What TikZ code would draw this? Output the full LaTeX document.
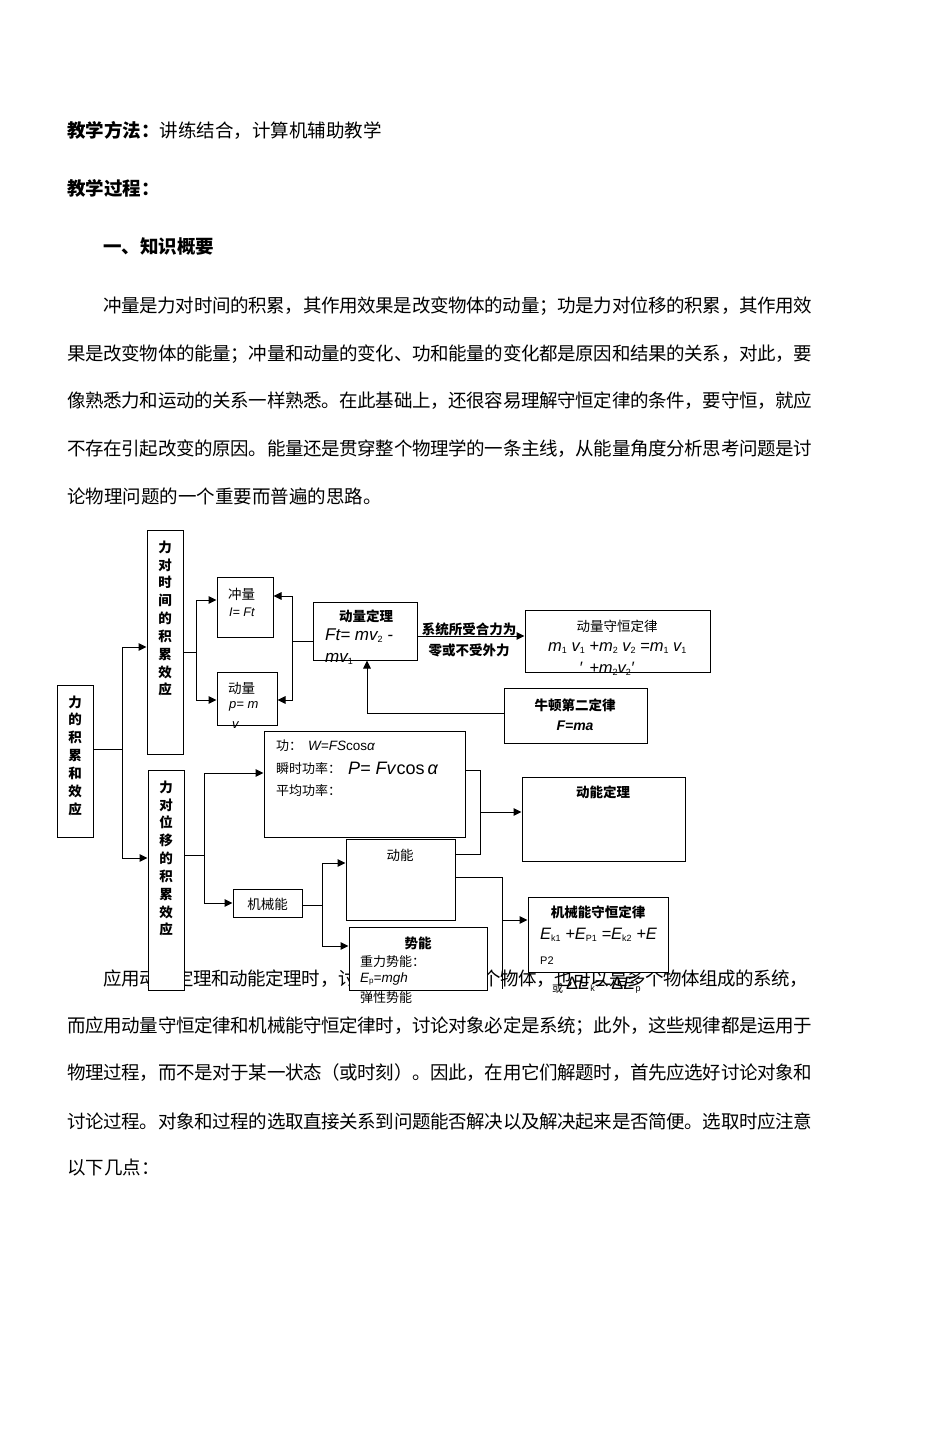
\documentclass[tikz,border=0pt]{standalone}
\usepackage{fontspec}
\setmainfont{Noto Sans CJK SC}
\newfontfamily\lat{Liberation Sans}
\usetikzlibrary{arrows.meta}
\newcount\cc
\cc="3000 \loop \XeTeXcharclass\cc=7 \advance\cc by 1 \ifnum\cc<"A000 \repeat
\cc="FF00 \loop \XeTeXcharclass\cc=7 \advance\cc by 1 \ifnum\cc<"FFF0 \repeat
\XeTeXinterchartoks 7 7 = {\hskip 0pt plus 1fil minus 1fil}
\newcommand\jl[2]{\hbox to #1pt{\XeTeXinterchartokenstate=1 #2}}
\newcommand\fs[1]{\fontsize{#1}{#1}\selectfont}
\newcommand\ls[1]{\raisebox{-2pt}{\fs{9}\upshape #1}}
\begin{document}
\begin{tikzpicture}[x=1pt,y=-1pt,
  box/.style={draw, fill=white, line width=1pt, inner sep=0pt},
  ln/.style={line width=1pt},
  arr/.style={line width=1pt, -{Triangle[length=8pt,width=7.5pt]}},
  txt/.style={inner sep=0pt, anchor=west},
  body/.style={txt, font=\fs{18.5}},
  lab/.style={inner sep=0pt, font=\fs{13.5}},
  blab/.style={inner sep=0pt, font=\fs{13.5}\bfseries},
  vlab/.style={inner sep=0pt, align=center, font=\fontsize{13.5}{17.85}\selectfont\bfseries},
  frm/.style={txt, font=\lat\itshape\fs{16.5}}]
\useasboundingbox[fill=white] (0,0) rectangle (950,1433);

% ---------- body text ----------
\node[body] (b1) at (67,130) {\textbf{教学方法：}讲练结合，计算机辅助教学};
\node[body] (b2) at (67,188) {\textbf{教学过程：}};
\node[body] (b3) at (103,247) {\textbf{一、知识概要}};
\node[body] (p1) at (103,306) {\jl{709}{冲量是力对时间的积累，其作用效果是改变物体的动量；功是力对位移的积累，其作用效}};
\node[body] (p2) at (67,354) {\jl{745}{果是改变物体的能量；冲量和动量的变化、功和能量的变化都是原因和结果的关系，对此，要}};
\node[body] (p3) at (67,401) {\jl{745}{像熟悉力和运动的关系一样熟悉。在此基础上，还很容易理解守恒定律的条件，要守恒，就应}};
\node[body] (p4) at (67,449) {\jl{745}{不存在引起改变的原因。能量还是贯穿整个物理学的一条主线，从能量角度分析思考问题是讨}};
\node[body] (p5) at (67,496) {论物理问题的一个重要而普遍的思路。};
\node[body] (q1) at (103,979) {\jl{705}{应用动量定理和动能定理时，讨论对象可以是一个物体，也可以是多个物体组成的系统，}};
\node[body] (q2) at (67,1026) {\jl{745}{而应用动量守恒定律和机械能守恒定律时，讨论对象必定是系统；此外，这些规律都是运用于}};
\node[body] (q3) at (67,1073) {\jl{745}{物理过程，而不是对于某一状态（或时刻）。因此，在用它们解题时，首先应选好讨论对象和}};
\node[body] (q4) at (67,1121) {\jl{745}{讨论过程。对象和过程的选取直接关系到问题能否解决以及解决起来是否简便。选取时应注意}};
\node[body] (q5) at (67,1168) {以下几点：};

% ---------- boxes ----------
\node[box, minimum width=36, minimum height=152] (F) at (75,761) {};
\node[box, minimum width=36, minimum height=224] (T) at (165,642) {};
\node[box, minimum width=36, minimum height=220] (D) at (166,880) {};
\node[box, minimum width=56, minimum height=60] (I) at (245,607) {};
\node[box, minimum width=60, minimum height=53] (P) at (247,698.5) {};
\node[box, minimum width=104, minimum height=58] (MT) at (365,631) {};
\node[box, minimum width=185, minimum height=62] (MC) at (617.5,641) {};
\node[box, minimum width=143, minimum height=55] (N) at (575.5,715.5) {};
\node[box, minimum width=201, minimum height=106] (W) at (364.5,784) {};
\node[box, minimum width=163, minimum height=84] (KT) at (603.5,819) {};
\node[box, minimum width=69, minimum height=28] (ME) at (267.5,903) {};
\node[box, minimum width=109, minimum height=81] (K) at (400.5,879.5) {};
\node[box, minimum width=138, minimum height=63] (PE) at (418,958.5) {};
\node[box, minimum width=140, minimum height=75] (EC) at (598,934.5) {};

% ---------- connectors ----------
\coordinate (j1) at (122,749);
\draw[ln] (F.east |- j1) -- (j1);
\draw[arr] (j1) |- (T.west |- 0,647);
\draw[arr] (j1) |- (D.west |- 0,858);

\coordinate (j2) at (196,652);
\draw[ln] (T.east |- j2) -- (j2);
\draw[arr] (j2) |- (I.west |- 0,600);
\draw[arr] (j2) |- (P.west |- 0,700);

\coordinate (j3) at (292,641);
\draw[ln] (MT.west |- j3) -- (j3);
\draw[arr] (j3) |- (I.east |- 0,596);
\draw[arr] (j3) |- (P.east |- 0,700);

\draw[arr] (MT.east |- 0,636) -- (MC.west |- 0,636);
\draw[arr] (N.west |- 0,713) -| (MT.south -| 367,0);

\coordinate (j4) at (204,855);
\draw[ln] (D.east |- j4) -- (j4);
\draw[arr] (j4) |- (W.west |- 0,773);
\draw[arr] (j4) |- (ME.west |- 0,903);

\coordinate (j5) at (322,905);
\draw[ln] (ME.east |- j5) -- (j5);
\draw[arr] (j5) |- (K.west |- 0,863);
\draw[arr] (j5) |- (PE.west |- 0,946);

\coordinate (j6) at (480,812);
\draw[ln] (W.east |- 0,770) -| (j6);
\draw[ln] (K.east |- 0,854) -| (j6);
\draw[arr] (j6) -- (KT.west |- j6);

\coordinate (j7) at (502,920);
\draw[ln] (K.east |- 0,877) -| (502,989);
\draw[arr] (j7) -- (EC.west |- j7);

% ---------- labels ----------
\node[vlab] (Ft) at (75,755.5) {力\\的\\积\\累\\和\\效\\应};
\node[vlab] (Tt) at (165,618.5) {力\\对\\时\\间\\的\\积\\累\\效\\应};
\node[vlab] (Dt) at (166,858.5) {力\\对\\位\\移\\的\\积\\累\\效\\应};

\node[txt, font=\fs{13.5}] (It) at (228,594) {冲量};
\node[txt, font=\lat\itshape\fs{12.5}] (If) at (229,612) {I= Ft};
\node[txt, font=\fs{13.5}] (Pt) at (228,688) {动量};
\node[txt, font=\lat\itshape\fs{13}] (Pf) at (229,706) {p= m};
\node[txt, font=\lat\itshape\fs{13}] (Pf2) at (232,725) {v};

\node[blab] (MTt) at (366,616) {动量定理};
\node[frm, font=\lat\itshape\fs{17}] (MTf) at (325,636) {Ft= mv\ls{2} -};
\node[frm, font=\lat\itshape\fs{17}] (MTf2) at (325,659) {mv\ls{1}};

\node[blab] (c1) at (469,629) {系统所受合力为};
\node[blab] (c2) at (469,650) {零或不受外力};

\node[lab] (MCt) at (617,626) {动量守恒定律};
\node[frm] (MCf) at (548,648) {m\ls{1} v\ls{1} +m\ls{2} v\ls{2} =m\ls{1} v\ls{1}};
\node[frm] (MCf2) at (579,669) {′\hspace{7pt}+m\ls{2}v\ls{2}′};

\node[blab] (Nt) at (575,705) {牛顿第二定律};
\node[inner sep=0pt, font=\lat\bfseries\itshape\fs{14}] (Nf) at (575,726) {F=ma};

\node[txt, font=\fs{13}] (Wt1) at (276,746) {功：};
\node[txt, font=\lat\fs{13.5}] (Wf1) at (308,746) {\textit{W=FS}cos\textit{α}};
\node[txt, font=\fs{13}] (Wt2) at (276,769) {瞬时功率：};
\node[txt, font=\lat\fs{18}] (Wf2) at (348,768) {\textit{P= Fv}cos\,\textit{α}};
\node[txt, font=\fs{13}] (Wt3) at (276,791) {平均功率：};

\node[blab] (KTt) at (603,792) {动能定理};
\node[lab] (MEt) at (267.5,904) {机械能};
\node[lab] (Kt) at (400,855) {动能};

\node[blab] (PEt) at (418,943) {势能};
\node[txt, font=\fs{13}] (PEt1) at (360,962) {重力势能：};
\node[txt, font=\lat\itshape\fs{13.5}] (PEf) at (360,979) {E\raisebox{-1pt}{\fs{8}\upshape p}=mgh};
\node[txt, font=\fs{13}] (PEt2) at (360,998) {弹性势能};

\node[blab] (ECt) at (598,912) {机械能守恒定律};
\node[frm] (ECf) at (540,935) {E\ls{k1} +E\ls{P1} =E\ls{k2} +E};
\node[txt, font=\lat\fs{11}] (ECf2) at (540,961) {P2};
\node[txt, font=\fs{11}] (ECo) at (552,988) {或};
\node[txt, font=\lat\fs{18}] (ECf3) at (566,985) {Δ\textit{E}\ls{k}=-Δ\textit{E}\ls{p}};
\end{tikzpicture}
\end{document}
